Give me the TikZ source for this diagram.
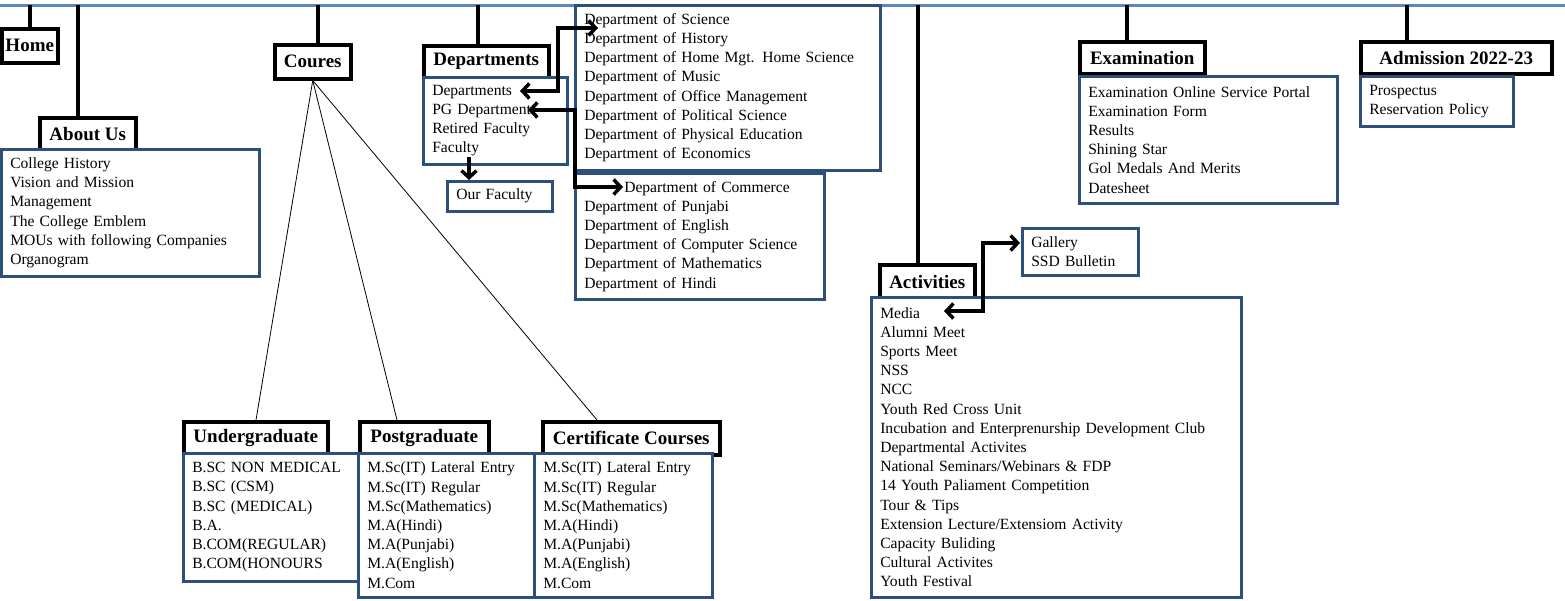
\documentclass[tikz,border=0pt]{standalone}
\usepackage{fontspec}
\setmainfont{Liberation Serif}
\usepackage{tikz}
\usetikzlibrary{arrows.meta,shadows}

\definecolor{barblue}{HTML}{5B87C5}
\definecolor{boxblue}{HTML}{2C4F7C}
\newcommand{\hdfont}{\fontsize{19}{22}\selectfont\bfseries}
\newcommand{\lsfont}{\fontsize{15.6}{19.2}\selectfont}

\begin{document}
\begin{tikzpicture}[x=1pt, y=-1pt,
  head/.style={draw, line width=3.5pt, fill=white, font=\hdfont, anchor=north west, inner sep=0pt},
  list/.style={draw=boxblue, line width=2.5pt, fill=white, anchor=north west, align=left, font=\lsfont,
    inner xsep=9pt, inner ysep=0pt, drop shadow={shadow xshift=2pt, shadow yshift=-2pt, opacity=.3}},
  stem/.style={line width=3.5pt},
  fan/.style={line width=0.8pt},
  link/.style={line width=3.5pt, {Straight Barb[length=7pt,width=15pt]}-{Straight Barb[length=7pt,width=15pt]}},
  down/.style={line width=3.5pt, -{Straight Barb[length=7pt,width=15pt]}}]
  \useasboundingbox (0,0) rectangle (1565,600);

  % Menu bar
  \coordinate (bar-l) at (0,5);
  \coordinate (bar-r) at (1565,5);
  \draw[barblue, line width=3pt] (bar-l) -- (bar-r);
  \coordinate (s-home) at (30,5);
  \coordinate (s-about) at (78,5);
  \coordinate (s-coures) at (318,5);
  \coordinate (s-dept) at (478,5);
  \coordinate (s-act) at (918,5);
  \coordinate (s-exam) at (1127,5);
  \coordinate (s-adm) at (1407,5);

  % Headings
  \node[head, minimum width=56pt, minimum height=34pt] (home) at (0,27) {Home};
  \node[head, minimum width=96pt, minimum height=32pt] (aboutus) at (38,116) {About Us};
  \node[head, minimum width=76pt, minimum height=34pt] (coures) at (273,43) {Coures};
  \node[head, minimum width=125pt, minimum height=32pt] (depts) at (422,44) {Departments};
  \node[head, minimum width=125pt, minimum height=32pt] (exam) at (1078,40) {Examination};
  \node[head, minimum width=191pt, minimum height=32pt] (adm) at (1359,40) {Admission 2022-23};
  \node[head, minimum width=95pt, minimum height=34pt] (act) at (878,263) {Activities};
  \node[head, minimum width=144pt, minimum height=33pt] (ug) at (182,420) {Undergraduate};
  \node[head, minimum width=129pt, minimum height=33pt] (pg) at (358,420) {Postgraduate};
  \node[head, minimum width=177pt, minimum height=33pt] (cc) at (541,420) {Certificate Courses};

  % Stems
  \draw[stem] (s-home) -- (s-home |- home.north);
  \draw[stem] (s-about) -- (s-about |- aboutus.north);
  \draw[stem] (s-coures) -- (s-coures |- coures.north);
  \draw[stem] (s-dept) -- (s-dept |- depts.north);
  \draw[stem] (s-act) -- (s-act |- act.north);
  \draw[stem] (s-exam) -- (s-exam |- exam.north);
  \draw[stem] (s-adm) -- (s-adm |- adm.north);

  % Course branches
  \draw[fan] (coures.south) -- ([xshift=74pt]ug.north west);
  \draw[fan] (coures.south) -- ([xshift=39pt]pg.north west);
  \draw[fan] (coures.south) -- ([xshift=56pt]cc.north west);

  % Lists
  \node[list, text width=240pt, minimum height=127pt] (about-list) at (0,148)
    {College History\\Vision and Mission\\Management\\The College Emblem\\MOUs with following Companies\\Organogram};
  \node[list, text width=126pt, minimum height=87pt] (dept-list) at (422,76)
    {Departments\\PG Department\\Retired Faculty\\Faculty};
  \node[list, text width=87pt, minimum height=30pt] (ourfac) at (446,180) {Our Faculty};
  \node[list, text width=287pt, minimum height=165pt] (sci) at (574,4)
    {Department of Science\\Department of History\\Department of Home Mgt. Home Science\\Department of Music\\
     Department of Office Management\\Department of Political Science\\Department of Physical Education\\Department of Economics};
  \node[list, text width=231pt, minimum height=126pt] (com) at (574,172)
    {\hspace*{40pt}Department of Commerce\\Department of Punjabi\\Department of English\\Department of Computer Science\\
     Department of Mathematics\\Department of Hindi};
  \node[list, text width=240pt, minimum height=127pt] (exam-list) at (1078,75)
    {Examination Online Service Portal\\Examination Form\\Results\\Shining Star\\Gol Medals And Merits\\Datesheet};
  \node[list, text width=135pt, minimum height=50pt] (adm-list) at (1359,75)
    {Prospectus\\Reservation Policy};
  \node[list, text width=98pt, minimum height=47pt] (gallery) at (1021,227)
    {Gallery\\SSD Bulletin};
  \node[list, text width=352pt, minimum height=300pt] (act-list) at (870,296)
    {Media\\Alumni Meet\\Sports Meet\\NSS\\NCC\\Youth Red Cross Unit\\Incubation and Enterprenurship Development Club\\
     Departmental Activites\\National Seminars/Webinars \& FDP\\14 Youth Paliament Competition\\Tour \& Tips\\
     Extension Lecture/Extensiom Activity\\Capacity Buliding\\Cultural Activites\\Youth Festival};
  \node[list, text width=158pt, minimum height=128pt] (ug-list) at (182,452)
    {B.SC NON MEDICAL\\B.SC (CSM)\\B.SC (MEDICAL)\\B.A.\\B.COM(REGULAR)\\B.COM(HONOURS};
  \node[list, text width=158pt, minimum height=144pt] (pg-list) at (357,452)
    {M.Sc(IT) Lateral Entry\\M.Sc(IT) Regular\\M.Sc(Mathematics)\\M.A(Hindi)\\M.A(Punjabi)\\M.A(English)\\M.Com};
  \node[list, text width=160pt, minimum height=144pt] (cc-list) at (533,452)
    {M.Sc(IT) Lateral Entry\\M.Sc(IT) Regular\\M.Sc(Mathematics)\\M.A(Hindi)\\M.A(Punjabi)\\M.A(English)\\M.Com};

  % Arrows
  \coordinate (a-dep) at (520,91);
  \coordinate (a-sci) at (598,28);
  \coordinate (a-pg) at (528,110);
  \coordinate (a-com) at (623,187);
  \coordinate (a-fac) at (469,157);
  \coordinate (a-media) at (944,311);
  \coordinate (a-gal) at (1020,243);
  \draw[link] (a-dep) -- ++(38,0) |- (a-sci);
  \draw[link] (a-pg) -- ++(47,0) |- (a-com);
  \draw[down] (a-fac) -- (a-fac |- ourfac.north);
  \draw[link] (a-media) -- ++(39,0) |- (a-gal);
\end{tikzpicture}
\end{document}
